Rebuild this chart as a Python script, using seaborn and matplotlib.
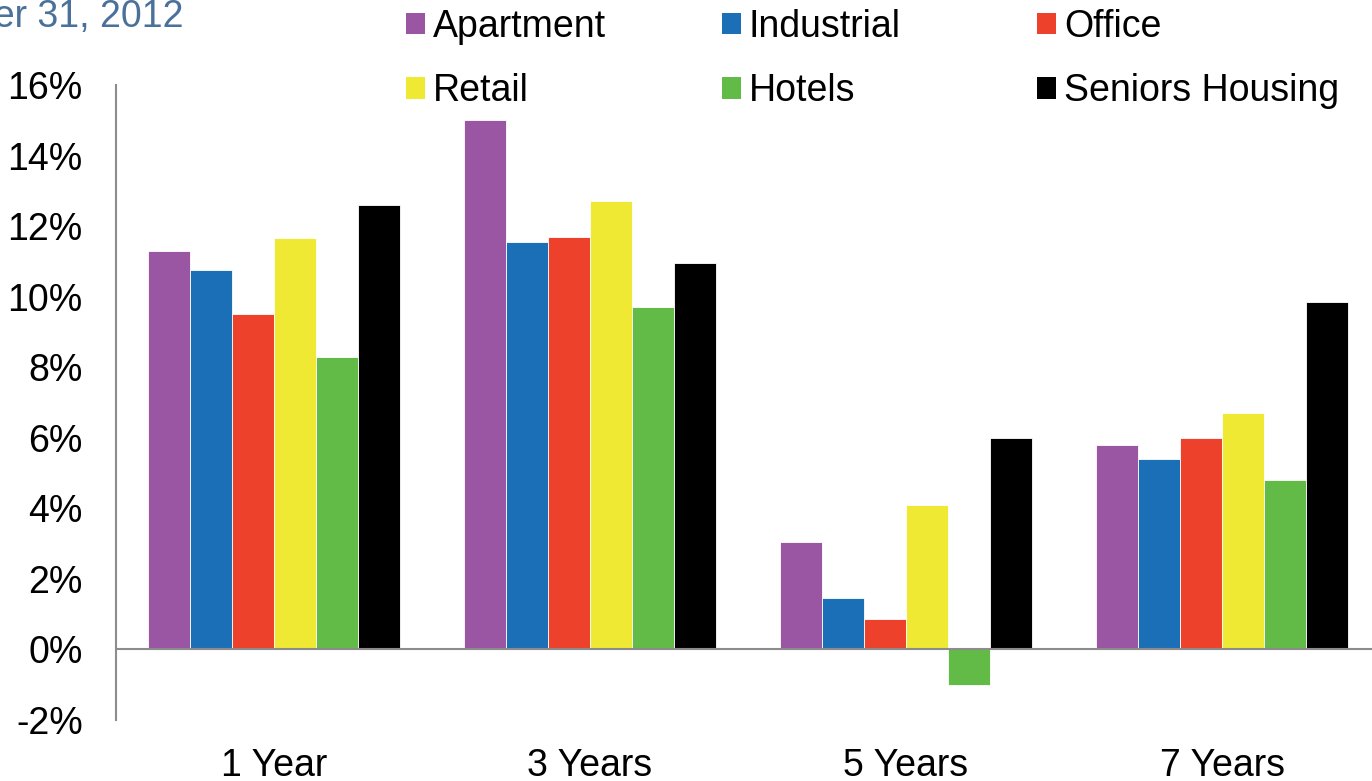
import matplotlib
import matplotlib.pyplot as plt
import pandas as pd
import seaborn as sns
from matplotlib.patches import Patch
from matplotlib.ticker import FuncFormatter

matplotlib.use("Agg")

periods = ["1 Year", "3 Years", "5 Years", "7 Years"]
sectors = ["Apartment", "Industrial", "Office", "Retail", "Hotels", "Seniors Housing"]
apartment = [11.3, 15.0, 3.05, 5.8]
industrial = [10.75, 11.55, 1.45, 5.4]
office = [9.5, 11.7, 0.85, 6.0]
retail = [11.65, 12.7, 4.1, 6.7]
hotels = [8.3, 9.7, -1.0, 4.8]
seniors = [12.6, 10.95, 6.0, 9.85]
colors = ["#9B56A3", "#1B6FB7", "#EE412C", "#F0E934", "#62BB47", "#000000"]

series = [apartment, industrial, office, retail, hotels, seniors]
rows = []
for sector, vals in zip(sectors, series):
    for period, v in zip(periods, vals):
        rows.append({"period": period, "sector": sector, "ret": v})
df = pd.DataFrame(rows)

sns.set_theme(style="white")
plt.rcParams["font.family"] = ["Liberation Sans", "DejaVu Sans"]

fig = plt.figure(figsize=(13.72, 7.81), dpi=100)
ax = fig.add_axes([116 / 1372, 1 - 720 / 781, 1264 / 1372, 635 / 781])

sns.barplot(
    data=df, x="period", y="ret", hue="sector", order=periods, hue_order=sectors,
    palette=colors, saturation=1, width=0.8, edgecolor="white", linewidth=0.6,
    ax=ax, legend=False,
)

ax.set_ylim(-2, 16)
ax.set_xlim(-0.5, 3.5)
ax.set_yticks(range(-2, 17, 2))
ax.yaxis.set_major_formatter(FuncFormatter(lambda v, _: f"{v:.0f}%"))
ax.axhline(0, color="#8C8C8C", linewidth=1.5, zorder=3)
ax.set_xlabel("")
ax.set_ylabel("")
for side in ["top", "right", "bottom"]:
    ax.spines[side].set_visible(False)
ax.spines["left"].set_color("#8C8C8C")
ax.spines["left"].set_linewidth(1.5)
ax.tick_params(axis="y", length=0, pad=24, labelsize=27, labelcolor="black")
ax.tick_params(axis="x", length=0, pad=20, labelsize=27, labelcolor="black")
ax.grid(False)

fig.text(183 / 1372, 1 - 27 / 781, "December 31, 2012", color="#4A7199",
         fontsize=27, ha="right", va="baseline")

# legend, one column at a time so the column starts match
col_x = [406, 722, 1037]
for c in range(3):
    handles = [Patch(facecolor=colors[c], edgecolor="none"),
               Patch(facecolor=colors[c + 3], edgecolor="none")]
    fig.legend(
        handles, [sectors[c], sectors[c + 3]],
        loc="upper left", bbox_to_anchor=(col_x[c] / 1372, 1 - 9 / 781),
        frameon=False, fontsize=27, labelcolor="black",
        handlelength=0.5, handleheight=0.5,
        handletextpad=0.22, labelspacing=0.75, borderpad=0, borderaxespad=0,
    )

fig.savefig("out.png", dpi=100)
plt.close(fig)
